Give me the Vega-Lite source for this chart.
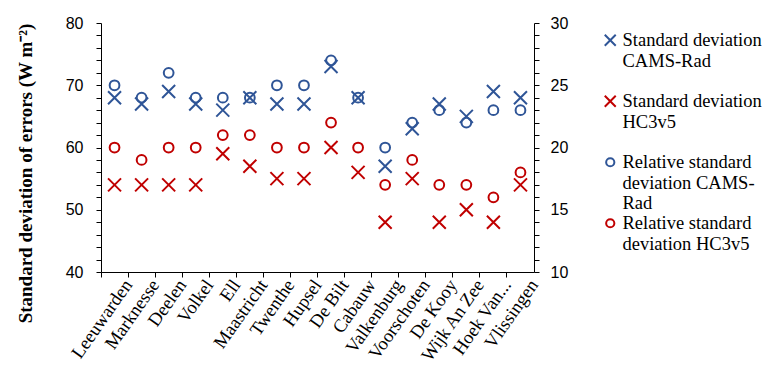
{
  "$schema": "https://vega.github.io/schema/vega-lite/v6.json",
  "width": 433,
  "height": 249,
  "autosize": {"type": "none"},
  "padding": {"left": 101, "top": 23, "right": 243, "bottom": 118},
  "background": "white",
  "config": {
    "view": {"stroke": null},
    "axis": {
      "grid": false,
      "domainColor": "#000000",
      "tickColor": "#000000",
      "labelColor": "#000000",
      "titleColor": "#000000",
      "domainWidth": 1,
      "tickWidth": 1,
      "tickSize": 5
    },
    "legend": {
      "labelFont": "Liberation Serif",
      "labelFontSize": 18.5,
      "labelColor": "#000000"
    }
  },
  "data": {
    "values": [
      {"station": "Leeuwarden", "sd_cams": 68, "sd_hc": 54, "rel_cams": 25, "rel_hc": 20},
      {"station": "Marknesse", "sd_cams": 67, "sd_hc": 54, "rel_cams": 24, "rel_hc": 19},
      {"station": "Deelen", "sd_cams": 69, "sd_hc": 54, "rel_cams": 26, "rel_hc": 20},
      {"station": "Volkel", "sd_cams": 67, "sd_hc": 54, "rel_cams": 24, "rel_hc": 20},
      {"station": "Ell", "sd_cams": 66, "sd_hc": 59, "rel_cams": 24, "rel_hc": 21},
      {"station": "Maastricht", "sd_cams": 68, "sd_hc": 57, "rel_cams": 24, "rel_hc": 21},
      {"station": "Twenthe", "sd_cams": 67, "sd_hc": 55, "rel_cams": 25, "rel_hc": 20},
      {"station": "Hupsel", "sd_cams": 67, "sd_hc": 55, "rel_cams": 25, "rel_hc": 20},
      {"station": "De Bilt", "sd_cams": 73, "sd_hc": 60, "rel_cams": 27, "rel_hc": 22},
      {"station": "Cabauw", "sd_cams": 68, "sd_hc": 56, "rel_cams": 24, "rel_hc": 20},
      {"station": "Valkenburg", "sd_cams": 57, "sd_hc": 48, "rel_cams": 20, "rel_hc": 17},
      {"station": "Voorschoten", "sd_cams": 63, "sd_hc": 55, "rel_cams": 22, "rel_hc": 19},
      {"station": "De Kooy", "sd_cams": 67, "sd_hc": 48, "rel_cams": 23, "rel_hc": 17},
      {"station": "Wijk An Zee", "sd_cams": 65, "sd_hc": 50, "rel_cams": 22, "rel_hc": 17},
      {"station": "Hoek Van Holland", "sd_cams": 69, "sd_hc": 48, "rel_cams": 23, "rel_hc": 16},
      {"station": "Vlissingen", "sd_cams": 68, "sd_hc": 54, "rel_cams": 23, "rel_hc": 18}
    ]
  },
  "encoding": {
    "x": {
      "field": "station",
      "type": "nominal",
      "sort": null,
      "scale": {"type": "band", "paddingInner": 0, "paddingOuter": 0},
      "axis": {
        "title": null,
        "bandPosition": 0,
        "labelOffset": 13.5,
        "labelAngle": -55,
        "labelAlign": "right",
        "labelBaseline": "middle",
        "labelFont": "Liberation Serif",
        "labelFontSize": 18.5,
        "labelPadding": 4,
        "labelLimit": 200,
        "labelExpr": "datum.label == 'Hoek Van Holland' ? 'Hoek Van...' : datum.label"
      }
    },
    "color": {
      "field": "series",
      "type": "nominal",
      "scale": {
        "domain": ["sd_cams", "sd_hc", "rel_cams", "rel_hc"],
        "range": ["#2F5597", "#C00000", "#2F5597", "#C00000"]
      },
      "legend": {
        "title": null,
        "orient": "none",
        "legendX": 500,
        "legendY": 8,
        "labelFont": "Liberation Serif",
        "labelFontSize": 18.5,
        "labelColor": "#000000",
        "labelBaseline": "middle",
        "labelOffset": 3,
        "symbolSize": 120,
        "symbolStrokeWidth": 2,
        "gridAlign": "all",
        "rowPadding": 0,
        "labelExpr": "datum.label == 'sd_cams' ? ['Standard deviation', 'CAMS-Rad'] : datum.label == 'sd_hc' ? ['Standard deviation', 'HC3v5'] : datum.label == 'rel_cams' ? ['Relative standard', 'deviation CAMS-', 'Rad'] : ['Relative standard', 'deviation HC3v5']"
      }
    },
    "shape": {
      "field": "series",
      "type": "nominal",
      "scale": {
        "domain": ["sd_cams", "sd_hc", "rel_cams", "rel_hc"],
        "range": [
          "M-1,-1L1,1M-1,1L1,-1",
          "M-1,-1L1,1M-1,1L1,-1",
          "M-0.75,0A0.75,0.75 0 1,0 0.75,0A0.75,0.75 0 1,0 -0.75,0Z",
          "M-0.75,0A0.75,0.75 0 1,0 0.75,0A0.75,0.75 0 1,0 -0.75,0Z"
        ]
      }
    }
  },
  "layer": [
    {
      "transform": [{"fold": ["sd_cams", "sd_hc"], "as": ["series", "value"]}],
      "mark": {"type": "point", "filled": false, "strokeWidth": 2, "size": 169, "opacity": 1},
      "encoding": {
        "y": {
          "field": "value",
          "type": "quantitative",
          "scale": {"domain": [40, 80], "nice": false, "zero": false},
          "axis": {
            "title": "Standard deviation of errors (W m⁻²)",
            "titleFont": "Liberation Serif",
            "titleFontSize": 19,
            "titleFontWeight": "bold",
            "titleAngle": -90,
            "titleX": -76,
            "titleY": 150,
            "titleAlign": "center",
            "titleBaseline": "middle",
            "values": [40, 42, 44, 46, 48, 50, 52, 54, 56, 58, 60, 62, 64, 66, 68, 70, 72, 74, 76, 78, 80],
            "labelExpr": "datum.value % 10 == 0 ? datum.label : ''",
            "labelFont": "Liberation Sans",
            "labelFontSize": 16,
            "labelPadding": 13
          }
        }
      }
    },
    {
      "transform": [{"fold": ["rel_cams", "rel_hc"], "as": ["series", "value"]}],
      "mark": {"type": "point", "filled": false, "strokeWidth": 2, "size": 169, "opacity": 1},
      "encoding": {
        "y": {
          "field": "value",
          "type": "quantitative",
          "scale": {"domain": [10, 30], "nice": false, "zero": false},
          "axis": {
            "orient": "right",
            "title": null,
            "values": [10, 11, 12, 13, 14, 15, 16, 17, 18, 19, 20, 21, 22, 23, 24, 25, 26, 27, 28, 29, 30],
            "labelExpr": "datum.value % 5 == 0 ? datum.label : ''",
            "labelFont": "Liberation Sans",
            "labelFontSize": 16,
            "labelPadding": 11
          }
        }
      }
    }
  ],
  "resolve": {"scale": {"y": "independent"}}
}
